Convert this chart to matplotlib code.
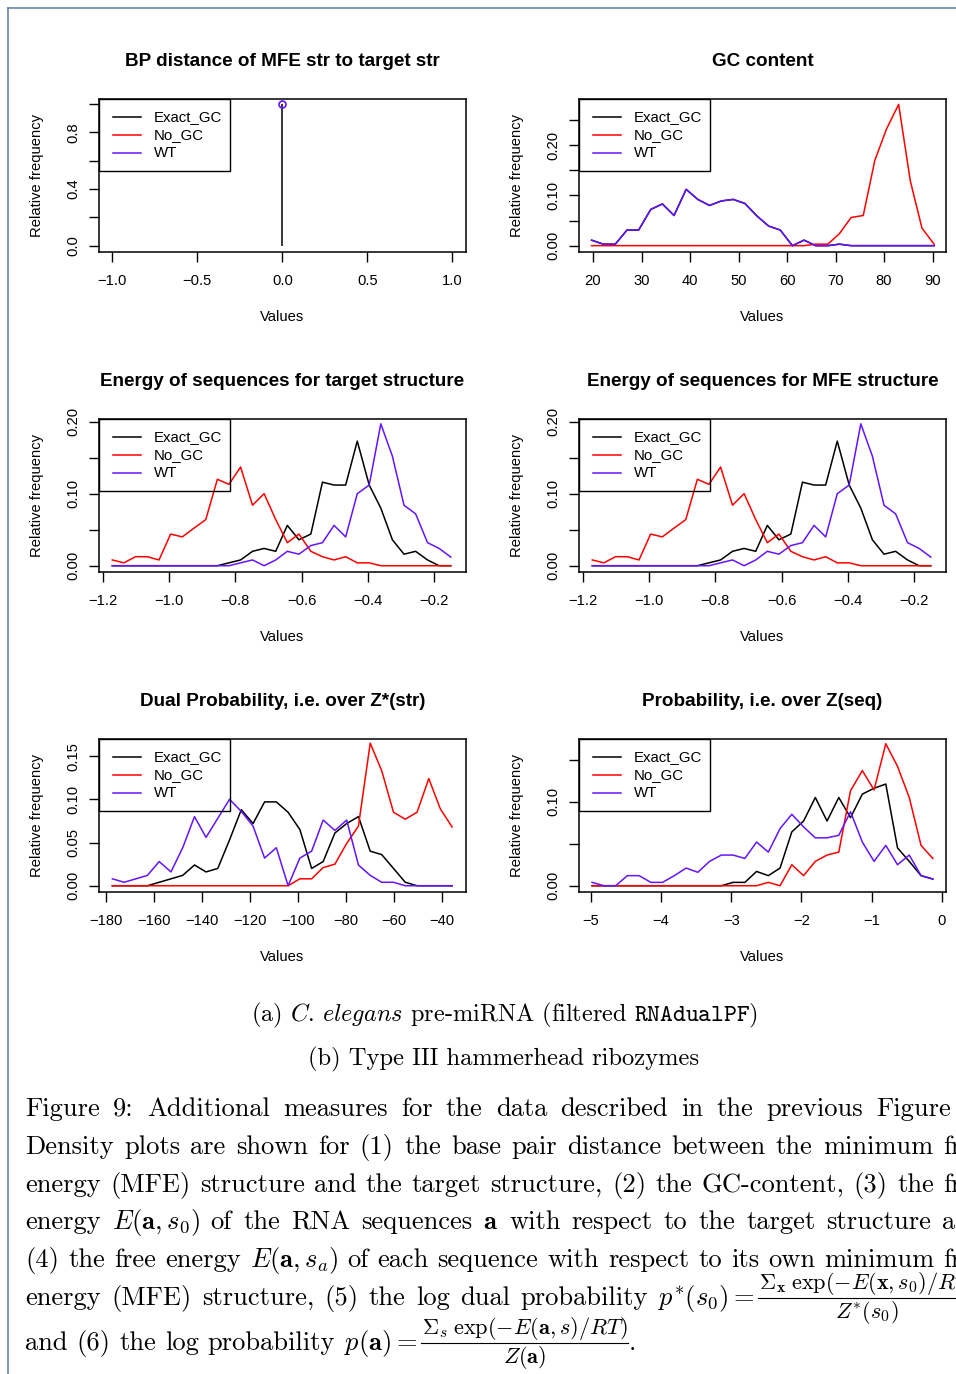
import matplotlib
matplotlib.use("Agg")
import matplotlib.pyplot as plt
from matplotlib.lines import Line2D
from matplotlib.patches import Rectangle

# ── Daten ─────────────────────────────────────────────────
series_names = ["Exact_GC", "No_GC", "WT"]

# (1) BP distance
bp_x = [0.0]
bp_exact = [1.0]
bp_wt = [1.0]

# (2) GC content
gc_x = [19.7, 22.1, 24.6, 27.0, 29.4, 31.9, 34.3, 36.7, 39.2, 41.6,
        44.0, 46.5, 48.9, 51.3, 53.8, 56.2, 58.6, 61.1, 63.5, 65.9,
        68.4, 70.8, 73.2, 75.7, 78.1, 80.5, 83.0, 85.4, 87.8, 90.3]
gc_wt = [0.011, 0.003, 0.003, 0.031, 0.031, 0.072, 0.083, 0.060, 0.112, 0.092,
         0.080, 0.089, 0.092, 0.084, 0.059, 0.039, 0.031, 0.0, 0.011, 0.0,
         0.0, 0.003, 0.0, 0.0, 0.0, 0.0, 0.0, 0.0, 0.0, 0.0]
gc_exact = list(gc_wt)   # liegt komplett unter WT
gc_nogc = [0.0, 0.0, 0.0, 0.0, 0.0, 0.0, 0.0, 0.0, 0.0, 0.0,
           0.0, 0.0, 0.0, 0.0, 0.0, 0.0, 0.0, 0.0, 0.0, 0.003,
           0.003, 0.024, 0.056, 0.060, 0.170, 0.232, 0.281, 0.129, 0.035, 0.003]

# (3) Energie bzgl. Zielstruktur
en_x = [-1.171, -1.136, -1.101, -1.065, -1.030, -0.995, -0.960, -0.925, -0.889, -0.854,
        -0.819, -0.784, -0.748, -0.713, -0.678, -0.643, -0.608, -0.572, -0.537, -0.502,
        -0.467, -0.432, -0.396, -0.361, -0.326, -0.291, -0.256, -0.220, -0.185, -0.150]
en_exact = [0.0, 0.0, 0.0, 0.0, 0.0, 0.0, 0.0, 0.0, 0.0, 0.0,
            0.004, 0.008, 0.020, 0.024, 0.020, 0.056, 0.036, 0.044, 0.116, 0.112,
            0.112, 0.173, 0.112, 0.080, 0.036, 0.016, 0.020, 0.008, 0.0, 0.0]
en_nogc = [0.008, 0.004, 0.0125, 0.0125, 0.008, 0.044, 0.040, 0.052, 0.064, 0.120,
           0.113, 0.137, 0.084, 0.100, 0.064, 0.032, 0.044, 0.020, 0.0125, 0.008,
           0.0125, 0.004, 0.004, 0.0, 0.0, 0.0, 0.0, 0.0, 0.0, 0.0]
en_wt = [0.0, 0.0, 0.0, 0.0, 0.0, 0.0, 0.0, 0.0, 0.0, 0.0,
         0.0, 0.004, 0.008, 0.0, 0.008, 0.020, 0.016, 0.028, 0.032, 0.056,
         0.040, 0.100, 0.112, 0.197, 0.152, 0.084, 0.072, 0.032, 0.024, 0.012]

# (4) Energie bzgl. MFE-Struktur (sieht identisch aus)
mfe_x = list(en_x)
mfe_exact = list(en_exact)
mfe_nogc = list(en_nogc)
mfe_wt = list(en_wt)

# (5) Duale Wahrscheinlichkeit
dual_x = [-177.2, -172.3, -167.4, -162.6, -157.7, -152.8, -147.9, -143.0, -138.2, -133.3,
          -128.4, -123.5, -118.6, -113.8, -108.9, -104.0, -99.1, -94.2, -89.4, -84.5,
          -79.6, -74.7, -69.8, -65.0, -60.1, -55.2, -50.3, -45.4, -40.6, -35.7]
dual_exact = [0.0, 0.0, 0.0, 0.0, 0.004, 0.008, 0.012, 0.024, 0.016, 0.020,
              0.053, 0.088, 0.072, 0.097, 0.097, 0.085, 0.065, 0.020, 0.028, 0.061,
              0.072, 0.080, 0.040, 0.036, 0.020, 0.004, 0.0, 0.0, 0.0, 0.0]
dual_nogc = [0.0, 0.0, 0.0, 0.0, 0.0, 0.0, 0.0, 0.0, 0.0, 0.0,
             0.0, 0.0, 0.0, 0.0, 0.0, 0.0, 0.008, 0.008, 0.021, 0.025,
             0.049, 0.069, 0.165, 0.133, 0.085, 0.077, 0.085, 0.124, 0.089, 0.068]
dual_wt = [0.008, 0.004, 0.008, 0.012, 0.028, 0.016, 0.044, 0.080, 0.056, 0.078,
           0.100, 0.086, 0.069, 0.032, 0.044, 0.0, 0.032, 0.040, 0.076, 0.064,
           0.076, 0.024, 0.012, 0.004, 0.004, 0.0, 0.0, 0.0, 0.0, 0.0]

# (6) Wahrscheinlichkeit
prob_x = [-4.980, -4.813, -4.646, -4.478, -4.311, -4.144, -3.977, -3.810, -3.642, -3.475,
          -3.308, -3.141, -2.974, -2.806, -2.639, -2.472, -2.305, -2.138, -1.970, -1.803,
          -1.636, -1.469, -1.302, -1.134, -0.967, -0.800, -0.633, -0.466, -0.298, -0.131]
prob_exact = [0.0, 0.0, 0.0, 0.0, 0.0, 0.0, 0.0, 0.0, 0.0, 0.0,
              0.0, 0.0, 0.004, 0.004, 0.017, 0.012, 0.021, 0.064, 0.077, 0.105,
              0.077, 0.105, 0.081, 0.109, 0.116, 0.121, 0.045, 0.029, 0.012, 0.008]
prob_nogc = [0.0, 0.0, 0.0, 0.0, 0.0, 0.0, 0.0, 0.0, 0.0, 0.0,
             0.0, 0.0, 0.0, 0.0, 0.0, 0.004, 0.0, 0.025, 0.012, 0.029,
             0.0365, 0.040, 0.113, 0.137, 0.114, 0.169, 0.142, 0.105, 0.048, 0.0325]
prob_wt = [0.004, 0.0, 0.0, 0.012, 0.012, 0.004, 0.004, 0.012, 0.021, 0.016,
           0.029, 0.0365, 0.0365, 0.0325, 0.052, 0.040, 0.068, 0.085, 0.070, 0.057,
           0.057, 0.060, 0.088, 0.052, 0.029, 0.048, 0.025, 0.0365, 0.012, 0.008]

# ── Layout (Pixel) ────────────────────────────────────────
W, H = 956, 1374
AX_W, AX_H = 367.3, 152.7
COL_X = [98.7, 578.7]
ROW_Y = [99.0, 419.0, 739.0]
COLORS = ["black", "#ff0000", "#6414ff"]
SANS = ["Liberation Sans", "DejaVu Sans"]
BODY_SIZE = 19.1
NUM_SCALE = 0.84                    # Zaehler/Nenner der Brueche
TEXT_LEFT, TEXT_RIGHT = 25, 985     # Blocksatz, rechter Rand liegt ausserhalb

plt.rcParams["font.family"] = SANS
plt.rcParams["mathtext.fontset"] = "cm"


def fx(x):
    return x / W


def fy(y):
    return 1 - y / H


def legende(ax):
    """Legende wie in R: oben links, transparent, schwarzer Rahmen."""
    bw, bh = 131.0, 72.0
    ax.add_patch(Rectangle((0, 1 - bh / AX_H), bw / AX_W, bh / AX_H,
                           transform=ax.transAxes, fill=False, ec="black",
                           lw=1.0, clip_on=False, zorder=5))
    for i, (name, col) in enumerate(zip(series_names, COLORS)):
        yy = 1 - (18 + 18 * i) / AX_H
        ax.add_line(Line2D([14 / AX_W, 42 / AX_W], [yy, yy], transform=ax.transAxes,
                           color=col, lw=1.1, zorder=6))
        ax.text(55 / AX_W, yy, name, transform=ax.transAxes, ha="left",
                va="center", fontsize=10.8, zorder=6)


panels = [
    dict(col=0, row=0, title="BP distance of MFE str to target str", kind="bp",
         xlim=(-1.08, 1.08), ylim=(-0.042, 1.036),
         xt=[-1.0, -0.5, 0.0, 0.5, 1.0], xl=["\u22121.0", "\u22120.5", "0.0", "0.5", "1.0"],
         yt=[0.0, 0.2, 0.4, 0.6, 0.8, 1.0], yl=["0.0", "", "0.4", "", "0.8", ""]),
    dict(col=1, row=0, title="GC content", x=gc_x, ys=[gc_exact, gc_nogc, gc_wt],
         xlim=(17.05, 92.76), ylim=(-0.012, 0.2917),
         xt=[20, 30, 40, 50, 60, 70, 80, 90], xl=["20", "30", "40", "50", "60", "70", "80", "90"],
         yt=[0.0, 0.05, 0.10, 0.15, 0.20, 0.25], yl=["0.00", "", "0.10", "", "0.20", ""]),
    dict(col=0, row=1, title="Energy of sequences for target structure", x=en_x,
         ys=[en_exact, en_nogc, en_wt],
         xlim=(-1.212, -0.104), ylim=(-0.0083, 0.2037),
         xt=[-1.2, -1.0, -0.8, -0.6, -0.4, -0.2],
         xl=["\u22121.2", "\u22121.0", "\u22120.8", "\u22120.6", "\u22120.4", "\u22120.2"],
         yt=[0.0, 0.05, 0.10, 0.15, 0.20], yl=["0.00", "", "0.10", "", "0.20"]),
    dict(col=1, row=1, title="Energy of sequences for MFE structure", x=mfe_x,
         ys=[mfe_exact, mfe_nogc, mfe_wt],
         xlim=(-1.212, -0.104), ylim=(-0.0083, 0.2037),
         xt=[-1.2, -1.0, -0.8, -0.6, -0.4, -0.2],
         xl=["\u22121.2", "\u22121.0", "\u22120.8", "\u22120.6", "\u22120.4", "\u22120.2"],
         yt=[0.0, 0.05, 0.10, 0.15, 0.20], yl=["0.00", "", "0.10", "", "0.20"]),
    dict(col=0, row=2, title="Dual Probability, i.e. over Z*(str)", x=dual_x,
         ys=[dual_exact, dual_nogc, dual_wt],
         xlim=(-182.9, -29.9), ylim=(-0.0069, 0.1698),
         xt=[-180, -160, -140, -120, -100, -80, -60, -40],
         xl=["\u2212180", "\u2212160", "\u2212140", "\u2212120", "\u2212100", "\u221280",
             "\u221260", "\u221240"],
         yt=[0.0, 0.05, 0.10, 0.15], yl=["0.00", "0.05", "0.10", "0.15"]),
    dict(col=1, row=2, title="Probability, i.e. over Z(seq)", x=prob_x,
         ys=[prob_exact, prob_nogc, prob_wt],
         xlim=(-5.171, 0.057), ylim=(-0.0071, 0.1746),
         xt=[-5, -4, -3, -2, -1, 0],
         xl=["\u22125", "\u22124", "\u22123", "\u22122", "\u22121", "0"],
         yt=[0.0, 0.05, 0.10, 0.15], yl=["0.00", "", "0.10", ""]),
]

fig = plt.figure(figsize=(W / 100, H / 100), dpi=100)

for p in panels:
    left = COL_X[p["col"]]
    top = ROW_Y[p["row"]]
    ax = fig.add_axes([fx(left), fy(top + AX_H), AX_W / W, AX_H / H])

    if p.get("kind") == "bp":
        ax.vlines(bp_x, 0, bp_exact, color=COLORS[0], lw=1.1)
        ax.plot(bp_x, bp_wt, "o", mfc="none", mec=COLORS[2], ms=5, mew=1.2)
    else:
        for ys, col in zip(p["ys"], COLORS):
            ax.plot(p["x"], ys, color=col, lw=1.1)

    ax.set_xlim(p["xlim"])
    ax.set_ylim(p["ylim"])
    ax.set_xticks(p["xt"])
    ax.set_xticklabels(p["xl"])
    ax.set_yticks(p["yt"])
    ax.set_yticklabels(p["yl"], rotation=90, va="center")
    ax.tick_params(direction="out", length=7, width=1.0, labelsize=10.6, colors="black")
    ax.tick_params(axis="x", pad=9)
    ax.tick_params(axis="y", pad=6)
    for sp in ax.spines.values():
        sp.set_linewidth(1.1)

    legende(ax)

    cx = left + AX_W / 2
    fig.text(fx(cx), fy(top - 37), p["title"], ha="center", va="center",
             fontsize=13.6, fontweight="bold")
    fig.text(fx(left - 61.5), fy(top + AX_H / 2), "Relative frequency", rotation=90,
             ha="center", va="center", fontsize=10.6)
    fig.text(fx(cx), fy(top + AX_H + 65), "Values", ha="center", va="center", fontsize=10.6)

# ── Seitenrand (Screenshot-Rahmen) ────────────────────────
fig.add_artist(Line2D([fx(8), fx(8)], [fy(8), fy(H)], color="#5a7aa8", lw=1.1))
fig.add_artist(Line2D([fx(8), fx(W)], [fy(8), fy(8)], color="#5a7aa8", lw=1.1))

# ── Bildunterschriften ────────────────────────────────────
fig.text(fx(504), fy(1021), r"(a) $\mathit{C.\,elegans}$ pre-miRNA (filtered $\mathtt{RNAdualPF}$)",
         ha="center", va="baseline", family="cmr10", fontsize=17.5)
fig.text(fx(504), fy(1065), "(b) Type III hammerhead ribozymes",
         ha="center", va="baseline", family="cmr10", fontsize=17.7)


def woerter(s):
    """Zerlegt eine Zeile in Woerter."""
    return [dict(t=w, glue=False) for w in s.split(" ")]


frac_dual = dict(num=r"$\Sigma_{\mathbf{x}}\;\exp(-E(\mathbf{x},s_0)/RT)$",
                 den=r"$Z^{*}(s_0)$", glue=True)
frac_prob = dict(num=r"$\Sigma_s\;\exp(-E(\mathbf{a},s)/RT)$",
                 den=r"$Z(\mathbf{a})$", glue=True)

body = [
    (1116, woerter("Figure 9: Additional measures for the data described in the previous Figure 8.")),
    (1154, woerter("Density plots are shown for (1) the base pair distance between the minimum free")),
    (1192, woerter("energy (MFE) structure and the target structure, (2) the GC-content, (3) the free")),
    (1229, woerter(r"energy $E(\mathbf{a},s_0)$ of the RNA sequences $\mathbf{a}$ with respect "
                   r"to the target structure and")),
    (1267, woerter(r"(4) the free energy $E(\mathbf{a},s_a)$ of each sequence with respect to "
                   r"its own minimum free")),
    (1305, woerter(r"energy (MFE) structure, (5) the log dual probability $p^{*}(s_0)=$")
     + [frac_dual, dict(t=",", glue=True)]),
    (1350, woerter(r"and (6) the log probability $p(\mathbf{a})=$")
     + [frac_prob, dict(t=".", glue=True)]),
]

renderer = fig.canvas.get_renderer()


def breite(s, scale=1.0):
    t = fig.text(0, 0, s, family="cmr10", fontsize=BODY_SIZE * scale)
    w = t.get_window_extent(renderer).width
    t.remove()
    return w


def tok_breite(tok):
    if "num" in tok:
        return max(breite(tok["num"], NUM_SCALE), breite(tok["den"], NUM_SCALE)) + 6
    return breite(tok["t"])


space_w = breite("a b") - breite("ab")
for i, (yb, toks) in enumerate(body):
    widths = [tok_breite(t) for t in toks]
    n_gaps = sum(1 for k, tok in enumerate(toks) if k > 0 and not tok["glue"])
    if i < len(body) - 1:
        gap = (TEXT_RIGHT - TEXT_LEFT - sum(widths)) / n_gaps
    else:
        gap = space_w
    x = TEXT_LEFT
    for k, (tok, wd) in enumerate(zip(toks, widths)):
        if k > 0 and not tok["glue"]:
            x += gap
        if "num" in tok:
            # Bruch von Hand: Zaehler, Bruchstrich, Nenner
            x0, x1 = x + 3, x + wd - 1
            mid = (x0 + x1) / 2
            fig.text(fx(mid), fy(yb - 16), tok["num"], ha="center", va="baseline",
                     family="cmr10", fontsize=BODY_SIZE * NUM_SCALE)
            fig.text(fx(mid), fy(yb + 13), tok["den"], ha="center", va="baseline",
                     family="cmr10", fontsize=BODY_SIZE * NUM_SCALE)
            fig.add_artist(Line2D([fx(x0), fx(x1)], [fy(yb - 7), fy(yb - 7)],
                                  color="black", lw=0.8))
        else:
            fig.text(fx(x), fy(yb), tok["t"], ha="left", va="baseline", family="cmr10",
                     fontsize=BODY_SIZE)
        x += wd

fig.savefig("out.png", dpi=100)
